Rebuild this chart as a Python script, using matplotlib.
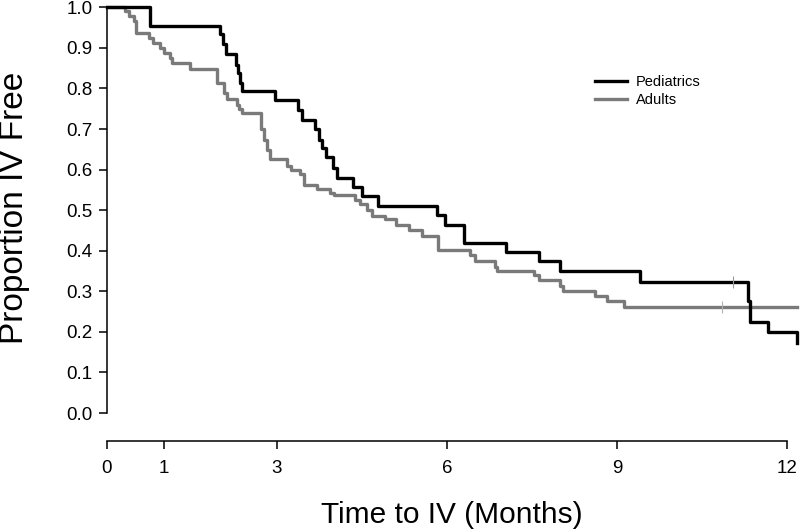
import matplotlib
matplotlib.use('Agg')
import matplotlib.pyplot as plt

plt.rcParams['font.family'] = ['Liberation Sans', 'DejaVu Sans']

# Kaplan-Meier step data (time in months, proportion free)
ped_times = [0, 0.76, 2.0, 2.05, 2.1, 2.28, 2.31, 2.34, 2.38, 2.97, 3.38, 3.44,
             3.68, 3.74, 3.8, 3.86, 3.99, 4.06, 4.35, 4.5, 4.79, 5.82, 5.97,
             6.31, 7.05, 7.62, 8.0, 9.41, 11.32, 11.35, 11.66, 12.18]
ped_surv = [1.0, 0.955, 0.933, 0.909, 0.884, 0.859, 0.838, 0.814, 0.793, 0.771,
            0.746, 0.723, 0.699, 0.674, 0.652, 0.63, 0.605, 0.58, 0.557, 0.534,
            0.511, 0.489, 0.464, 0.42, 0.396, 0.374, 0.349, 0.324, 0.275, 0.225,
            0.2, 0.173]
ped_censor_t = [11.05]
ped_censor_s = [0.324]

adult_times = [0, 0.32, 0.38, 0.47, 0.52, 0.75, 0.82, 0.94, 1.0, 1.12, 1.15,
               1.47, 1.94, 2.06, 2.12, 2.29, 2.33, 2.38, 2.71, 2.77, 2.82, 2.88,
               3.18, 3.24, 3.41, 3.47, 3.71, 3.94, 4.0, 4.38, 4.47, 4.59, 4.67,
               4.9, 5.1, 5.33, 5.56, 5.85, 6.41, 6.5, 6.85, 6.88, 7.53, 7.62,
               7.99, 8.05, 8.62, 8.82, 9.12, 12.18]
adult_surv = [1.0, 0.99, 0.978, 0.967, 0.936, 0.925, 0.913, 0.9, 0.888, 0.875,
              0.863, 0.849, 0.814, 0.789, 0.774, 0.76, 0.749, 0.74, 0.699, 0.674,
              0.649, 0.627, 0.608, 0.6, 0.588, 0.563, 0.551, 0.543, 0.538, 0.526,
              0.514, 0.501, 0.486, 0.477, 0.464, 0.452, 0.437, 0.402, 0.39, 0.375,
              0.361, 0.351, 0.341, 0.328, 0.312, 0.301, 0.289, 0.277, 0.261, 0.261]
adult_censor_t = [10.85]
adult_censor_s = [0.261]

x_ticks = [0, 1, 3, 6, 9, 12]
y_ticks = [0.0, 0.1, 0.2, 0.3, 0.4, 0.5, 0.6, 0.7, 0.8, 0.9, 1.0]

ped_color = 'black'
adult_color = '#7a7a7a'

fig = plt.figure(figsize=(8, 5.32), dpi=100)
ax = fig.add_axes([107 / 800, 1 - 413 / 532, 690 / 800, 405.7 / 532])

ax.step(ped_times, ped_surv, where='post', color=ped_color, lw=2.4,
        label='Pediatrics', clip_on=False, zorder=3)
ax.step(adult_times, adult_surv, where='post', color=adult_color, lw=2.4,
        label='Adults', clip_on=False, zorder=2)
ax.plot(ped_censor_t, ped_censor_s, ls='none', marker='|', ms=8, mew=0.8,
        color='#9a9a9a', zorder=4, clip_on=False)
ax.plot(adult_censor_t, adult_censor_s, ls='none', marker='|', ms=8, mew=0.8,
        color='#b0b0b0', zorder=4, clip_on=False)

ax.set_xlim(0, 12.18)
ax.set_ylim(0, 1.0)
ax.set_xticks(x_ticks)
ax.set_xticklabels([str(t) for t in x_ticks])
ax.set_yticks(y_ticks)
ax.set_yticklabels(['%.1f' % v for v in y_ticks])

ax.spines['top'].set_visible(False)
ax.spines['right'].set_visible(False)
ax.spines['bottom'].set_position(('outward', 20))
ax.spines['bottom'].set_bounds(0, 12)
ax.spines['left'].set_bounds(0, 1)
for s in ('bottom', 'left'):
    ax.spines[s].set_linewidth(1.1)
ax.tick_params(axis='both', direction='out', length=5.5, width=1.1,
               labelsize=13.5)
ax.tick_params(axis='x', pad=8)
ax.tick_params(axis='y', pad=5)

fig.text(15 / 800, 1 - 208 / 532, 'Proportion IV Free', rotation=90,
         ha='center', va='center', fontsize=24)
fig.text(452 / 800, 1 - 515 / 532, 'Time to IV (Months)', ha='center',
         va='center', fontsize=21.5)

ax.legend(loc='upper left', bbox_to_anchor=(595 / 800, 1 - 75 / 532),
          bbox_transform=fig.transFigure, frameon=False, fontsize=10.5,
          handlelength=2.2, handletextpad=0.6, labelspacing=0.3,
          borderpad=0, borderaxespad=0)

fig.savefig('out.png', dpi=100)
